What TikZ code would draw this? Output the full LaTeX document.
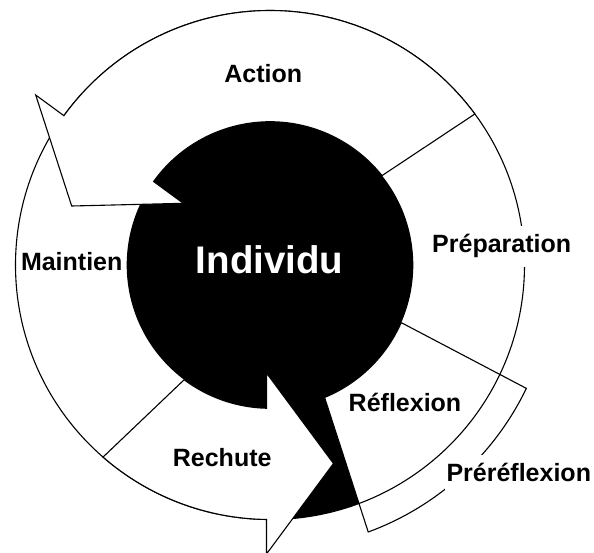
\documentclass[tikz,border=0pt]{standalone}
\usepackage{fontspec}
\setmainfont{Liberation Sans}
\begin{document}
\begin{tikzpicture}[x=1pt,y=1pt,
  ring/.style={line width=1.1pt, draw=black, line join=miter},
  band/.style={ring, fill=white},
  lbl/.style={font=\bfseries\fontsize{25}{30}\selectfont, anchor=base, inner sep=0pt},
  lblbox/.style={lbl, fill=white, inner xsep=2pt, inner ysep=4.5pt, text height=22.5pt, text depth=10pt},
  core/.style={font=\bfseries\fontsize{38.5}{46}\selectfont, text=white, anchor=base, inner sep=0pt}]
% page frame
\clip (-270,-287) rectangle (324,265);
\fill[white] (-270,-287) rectangle (324,265);
\coordinate (c) at (0,0);

% central disc
\fill[black] (c) circle[radius=143.3];
% dark wedge between the relapse arrow and the reflection block
\fill[black] (c) -- (-91:254.5) arc[start angle=-91, end angle=-66, radius=254.5] -- cycle;

% reflection block (extends beyond the ring)
\draw[band] (-23.7:143.3) -- (-25.7:284.5)
  arc[start angle=-25.7, end angle=-69.8, radius=284.5]
  -- (-67.6:143.3) arc[start angle=-67.6, end angle=-23.7, radius=143.3] -- cycle;

% outer ring
\draw[ring] (c) circle[radius=254.5];

% action band with its arrow head
\draw[band] (36.4:254.5) arc[start angle=36.4, end angle=144.08, radius=254.5]
  -- (-234.3,170) -- (-198.3,59) -- (-86.7,61.7) -- (-116.4,83.5)
  arc[start angle=144.35, end angle=38.6, radius=143.3] -- cycle;

% relapse band with its arrow head
\draw[band] (229:254.5) arc[start angle=229, end angle=269.21, radius=254.5]
  -- (-3.5,-289) -- (63.5,-198.5) -- (-3.5,-108) -- (-3.5,-143.26)
  arc[start angle=268.6, end angle=233.2, radius=143.3] -- cycle;

% labels
\node[core] (individu) at (-0.3,-8.3) {Individu};
\node[lbl] (action) at (-6.7,182.3) {Action};
\node[lblbox] (preparation) at (231.7,12.3) {Préparation};
\node[lbl] (maintien) at (-198.3,-5) {Maintien};
\node[lbl] (rechute) at (-47.8,-201) {Rechute};
\node[lbl] (reflexion) at (135,-146.7) {Réflexion};
\node[lblbox] (prereflexion) at (248.8,-216.7) {Préréflexion};
\end{tikzpicture}
\end{document}
